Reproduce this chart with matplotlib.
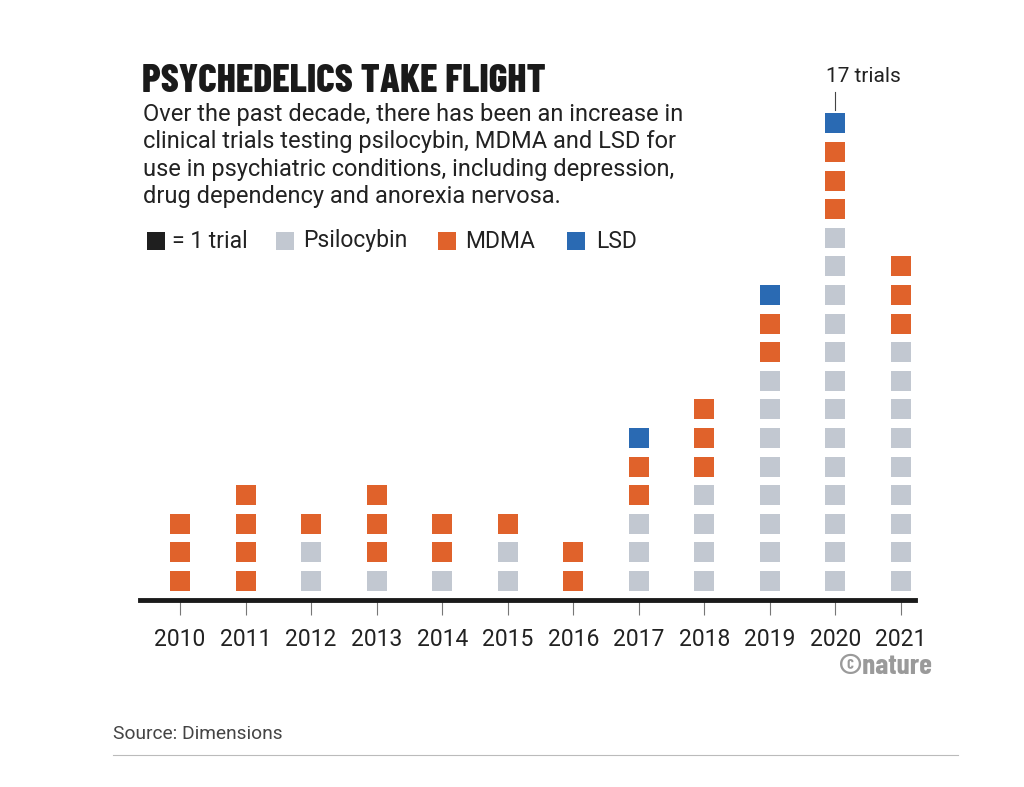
import matplotlib.pyplot as plt

# Data: trials per year, split by drug
years = [2010, 2011, 2012, 2013, 2014, 2015, 2016, 2017, 2018, 2019, 2020, 2021]
psilocybin = [0, 0, 2, 1, 1, 2, 0, 3, 4, 8, 13, 9]
mdma = [3, 4, 1, 3, 2, 1, 2, 2, 3, 2, 3, 3]
lsd = [0, 0, 0, 0, 0, 0, 0, 1, 0, 1, 1, 0]

drug_names = ["Psilocybin", "MDMA", "LSD"]
drug_colors = ["#C2C8D1", "#E0622B", "#2A6AB3"]

TITLE_FONT = ["Barlow Condensed", "Liberation Sans Narrow", "DejaVu Sans"]
BODY_FONT = ["Roboto", "DejaVu Sans"]

W, H = 1024, 787
fig = plt.figure(figsize=(W / 100, H / 100), dpi=100)

# Chart axes placed in pixel coordinates
px_year = 65.5   # pixels per year
px_unit = 28.6   # pixels per trial
left_px, right_px, base_px, top_px = 140, 915, 600, 60
ax = fig.add_axes([left_px / W, 1 - base_px / H, (right_px - left_px) / W, (base_px - top_px) / H])
ax.set_xlim(years[0] - (180 - left_px) / px_year, years[-1] + (right_px - 901) / px_year)
ax.set_ylim(0, (base_px - top_px) / px_unit)

sq_w = 20 / px_year
sq_h = 20 / px_unit
first_bottom = (base_px - 581) / px_unit - sq_h / 2

for i, yr in enumerate(years):
    level = 0
    for counts, color in zip([psilocybin, mdma, lsd], drug_colors):
        for _ in range(counts[i]):
            ax.bar(yr, sq_h, width=sq_w, bottom=first_bottom + level, color=color, linewidth=0)
            level += 1

for s in ["top", "right", "left"]:
    ax.spines[s].set_visible(False)
ax.spines["bottom"].set_linewidth(3.5)
ax.spines["bottom"].set_color("#1a1a1a")
ax.set_yticks([])
ax.set_xticks(years)
ax.set_xticklabels([str(y) for y in years], fontsize=16.5, family=BODY_FONT, color="#222222")
ax.tick_params(axis="x", length=11, width=0.8, color="#777777", pad=9)

# annotation for the tallest column
top_total = psilocybin[10] + mdma[10] + lsd[10]
ax.plot([years[10], years[10]], [(base_px - 110) / px_unit, (base_px - 92) / px_unit],
        color="#444444", lw=0.8, clip_on=False)
ax.text(years[10] - 9 / px_year, (base_px - 76) / px_unit, f"{top_total} trials",
        fontsize=15, family=BODY_FONT, color="#222222", va="center", ha="left")

# Title and subtitle
fig.text(142 / W, 1 - 81 / H, "PSYCHEDELICS TAKE FLIGHT", fontsize=28.5, fontweight=800,
         family=TITLE_FONT, color="#1a1a1a", va="center", ha="left")
subtitle = ["Over the past decade, there has been an increase in",
            "clinical trials testing psilocybin, MDMA and LSD for",
            "use in psychiatric conditions, including depression,",
            "drug dependency and anorexia nervosa."]
for j, line in enumerate(subtitle):
    fig.text(143 / W, 1 - (114 + j * 27.6) / H, line, fontsize=17, family=BODY_FONT,
             color="#222222", va="center", ha="left")

# Legend
legend_y = 1 - 241 / H
sq = 18
fig.patches.append(plt.Rectangle((147 / W, legend_y - sq / 2 / H), sq / W, sq / H,
                                 transform=fig.transFigure, color="#1f1f1f", lw=0))
fig.text(172 / W, legend_y, "= 1 trial", fontsize=16.5, family=BODY_FONT, color="#222222", va="center")
for name, color, sx, tx in zip(drug_names, drug_colors, [276, 438, 567], [303, 465, 596]):
    fig.patches.append(plt.Rectangle((sx / W, legend_y - sq / 2 / H), sq / W, sq / H,
                                     transform=fig.transFigure, color=color, lw=0))
    fig.text(tx / W, legend_y, name, fontsize=16.5, family=BODY_FONT, color="#222222", va="center")

# Credit and source
fig.text(932 / W, 1 - 667 / H, "©nature", fontsize=21, fontweight="bold",
         family=TITLE_FONT, color="#9a9a9a", va="center", ha="right")
fig.text(113 / W, 1 - 734 / H, "Source: Dimensions", fontsize=13.8, family=BODY_FONT,
         color="#444444", va="center", ha="left")
fig.add_artist(plt.Line2D([113 / W, 958 / W], [1 - 755 / H, 1 - 755 / H], color="#bbbbbb", lw=0.8))

fig.savefig("out.png", dpi=100)
